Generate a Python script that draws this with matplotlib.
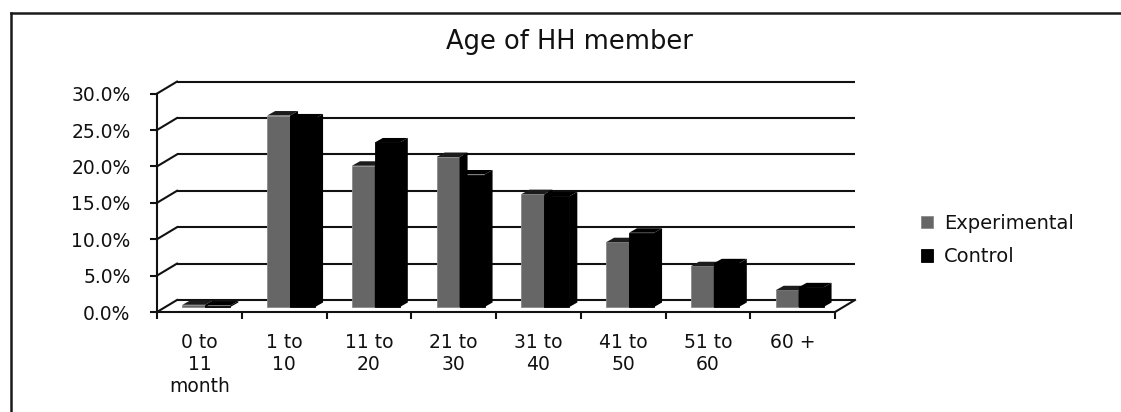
import matplotlib
matplotlib.use("Agg")
import matplotlib.pyplot as plt
from matplotlib.lines import Line2D
import numpy as np

# ---- data ----
categories = ["0 to\n11\nmonth", "1 to\n10", "11 to\n20", "21 to\n30",
              "31 to\n40", "41 to\n50", "51 to\n60", "60 +"]
experimental = [0.3, 26.3, 19.4, 20.6, 15.5, 8.9, 5.6, 2.3]
control = [0.2, 25.9, 22.6, 18.2, 15.2, 10.2, 6.0, 2.7]
yticks = [0, 5, 10, 15, 20, 25, 30]
series_names = ["Experimental", "Control"]
title = "Age of HH member"

# ---- style / geometry ----
W, H = 1121, 412
fig = plt.figure(figsize=(W / 100, H / 100), dpi=100)
plt.rcParams['font.family'] = ['DejaVu Sans']

PXX = 84.75   # px per category
PXY = 7.28    # px per percent
left_px, front0_px = 157, 312
ax_w_px, ax_h_px = 700, 232
ax = fig.add_axes([left_px / W, (H - front0_px) / H, ax_w_px / W, ax_h_px / H])
ax.set_xlim(0, ax_w_px / PXX)
ax.set_ylim(0, ax_h_px / PXY)
ax.patch.set_visible(False)

n = len(categories)
Dx, Dy = 20 / PXX, 12 / PXY          # wall depth
base = 5 / PXY                        # bar base lift (mid-depth)
ddx, ddy = 8 / PXX, 4.5 / PXY         # bar depth
g_off, g_w, b_w = 0.30, 0.27, 0.295
lc = "#111111"
lw = 1.5
txt = "#111111"

# back wall gridlines and connectors
for t in yticks:
    ax.plot([Dx, n + Dx], [t + Dy, t + Dy], color=lc, lw=lw, zorder=1,
            clip_on=False, solid_capstyle='butt')
    ax.plot([0, Dx], [t, t + Dy], color=lc, lw=lw, zorder=1, clip_on=False)
# floor right edge
ax.plot([n, n + Dx], [0, Dy], color=lc, lw=lw, zorder=1, clip_on=False)

# bars
x = np.arange(n)
gx = x + g_off
bx = gx + g_w
gcol, bcol = "#666666", "#000000"
gb = ax.bar(gx, experimental, width=g_w, bottom=base, align='edge',
            color=gcol, edgecolor="#8a8a8a", linewidth=0.6, zorder=3,
            label=series_names[0])
for xi, v in zip(gx, experimental):
    top = base + v
    ax.fill([xi, xi + g_w, xi + g_w + ddx, xi + ddx],
            [top, top, top + ddy, top + ddy], color="#1c1c1c", zorder=3.5, lw=0)
    ax.fill([xi + g_w, xi + g_w + ddx, xi + g_w + ddx, xi + g_w],
            [base, base + ddy, top + ddy, top], color="#000000", zorder=3.5, lw=0)
bb = ax.bar(bx, control, width=b_w, bottom=base, align='edge',
            color=bcol, edgecolor=bcol, linewidth=0.6, zorder=4,
            label=series_names[1])
for xi, v in zip(bx, control):
    top = base + v
    ax.fill([xi, xi + b_w, xi + b_w + ddx, xi + ddx],
            [top, top, top + ddy, top + ddy], color="#000000", zorder=4.5, lw=0)
    ax.fill([xi + b_w, xi + b_w + ddx, xi + b_w + ddx, xi + b_w],
            [base, base + ddy, top + ddy, top], color="#000000", zorder=4.5, lw=0)

# spines
for s in ['top', 'right']:
    ax.spines[s].set_visible(False)
ax.spines['left'].set_bounds(0, yticks[-1])
ax.spines['bottom'].set_bounds(0, n)
for s in ['left', 'bottom']:
    ax.spines[s].set_linewidth(lw)
    ax.spines[s].set_color(lc)
    ax.spines[s].set_zorder(5)

ax.set_yticks(yticks)
ax.set_yticklabels([f"{t:.1f}%" for t in yticks])
ax.tick_params(axis='y', direction='out', length=5, width=lw, color=lc,
               pad=14, labelsize=13.5, labelcolor=txt)
ax.set_xticks(np.arange(n + 1))
ax.set_xticklabels([])
ax.set_xticks(x + 0.5, minor=True)
ax.set_xticklabels(categories, minor=True)
ax.tick_params(axis='x', which='major', direction='out', length=5, width=lw, color=lc)
ax.tick_params(axis='x', which='minor', length=0, pad=15, labelsize=13.5,
               labelcolor=txt)

# title
fig.text(570 / W, 1 - 49 / H, title, ha='center', va='baseline',
         fontsize=18.5, color=txt)

# legend
fig.legend(handles=[gb, bb], labels=series_names, loc='center left',
           bbox_to_anchor=(921 / W, 1 - 240 / H), bbox_transform=fig.transFigure,
           frameon=False, fontsize=14, handlelength=0.6, handleheight=0.6,
           handletextpad=0.6, labelspacing=0.75, borderpad=0, borderaxespad=0,
           labelcolor=txt)

# outer frame (left and top)
fig.add_artist(Line2D([11 / W, 11 / W], [0, 1 - 13 / H], transform=fig.transFigure,
                      color="#1a1a1a", lw=1.8))
fig.add_artist(Line2D([11 / W, 1], [1 - 13 / H, 1 - 13 / H], transform=fig.transFigure,
                      color="#1a1a1a", lw=1.8))

fig.savefig("out.png", dpi=100)
